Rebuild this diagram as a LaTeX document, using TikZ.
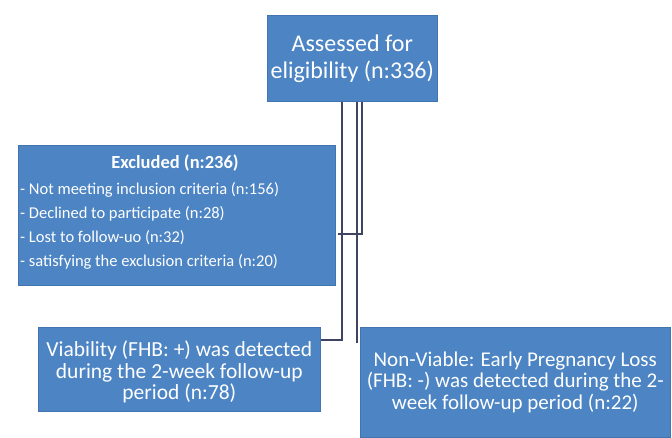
\documentclass[tikz,border=0pt]{standalone}
\usepackage{fontspec}
\setmainfont{Carlito}
\definecolor{boxblue}{RGB}{76,132,196}
\definecolor{boxedge}{RGB}{66,116,176}
\definecolor{linecol}{RGB}{62,68,98}
\begin{document}
\begin{tikzpicture}[x=1pt,y=-1pt,
  box/.style={fill=boxblue, draw=boxedge, line width=0.6pt, text=white, align=center, inner sep=0pt, anchor=north west},
  lbl/.style={text=white, inner sep=0pt, align=center},
  conn/.style={draw=linecol, line width=1.6pt}]
\fill[white] (0,0) rectangle (672,437);
\useasboundingbox (0,0) rectangle (672,437);

% boxes
\node[box, minimum width=170pt, minimum height=86pt, font=\fontsize{24}{27}\selectfont] (assess) at (267,15) {Assessed for\\eligibility (n:336)};

\node[box, minimum width=317pt, minimum height=140pt] (excl) at (18,145) {};
\node[lbl, font=\bfseries\fontsize{18.5}{20}\selectfont] (exclt) at (175,163) {Excluded (n:236)};
\node[lbl, anchor=west, align=left, font=\fontsize{16.5}{24}\selectfont] (excli) at (20,226) {- Not meeting inclusion criteria (n:156)\\- Declined to participate (n:28)\\- Lost to follow-uo (n:32)\\- satisfying the exclusion criteria (n:20)};

\node[box, minimum width=282pt, minimum height=84pt] (viab) at (38,327) {};
\node[lbl, font=\fontsize{21.5}{21.5}\selectfont] (viabt) at ([yshift=-3pt]viab.center) {Viability (FHB: +) was detected\\during the 2-week follow-up\\period (n:78)};

\node[box, minimum width=310pt, minimum height=110pt, font=\fontsize{21}{21.5}\selectfont] (nonv) at (360,327) {Non-Viable: Early Pregnancy Loss\\(FHB: -) was detected during the 2-\\week follow-up period (n:22)};

% connectors
\coordinate (ax) at (341.7,0);
\coordinate (bend) at (356.7,343);
\coordinate (cx) at (361.7,0);
\coordinate (cend) at (338,234);
\draw[conn] (assess.south -| ax) |- ([yshift=-13pt]viab.north east);
\draw[conn] (assess.south -| bend) -- (bend);
\draw[conn] (assess.south -| cx) |- (cend);
\end{tikzpicture}
\end{document}
